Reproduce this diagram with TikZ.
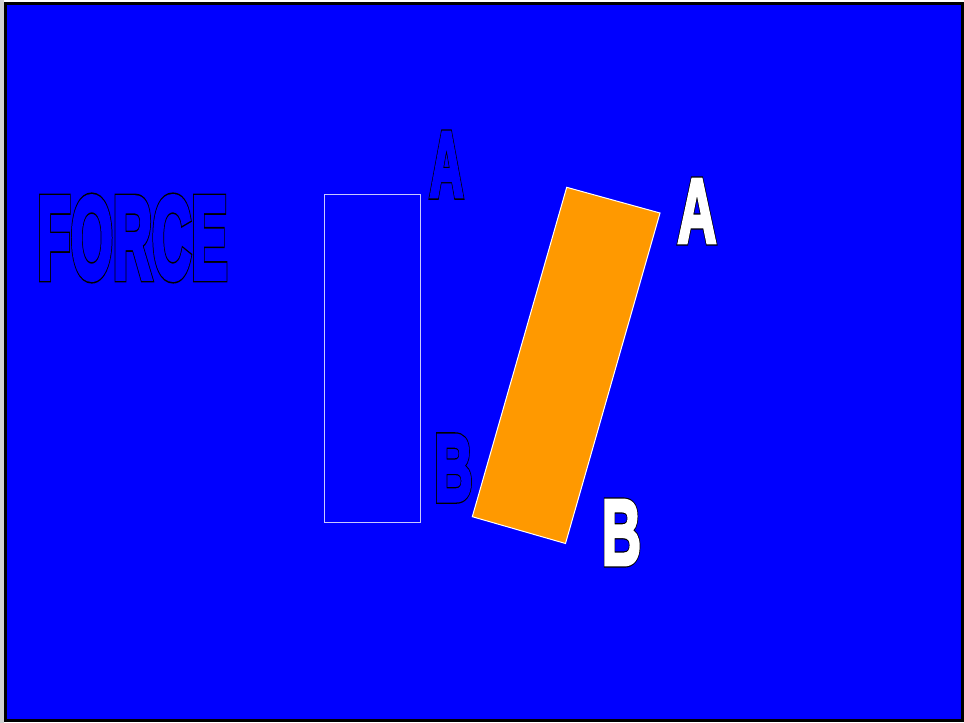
\documentclass[tikz,border=0pt]{standalone}
\usepackage{fontspec}
\usepackage{graphicx}
\setmainfont{Liberation Sans}
\definecolor{bgblue}{RGB}{0,0,255}
\definecolor{orng}{RGB}{255,153,0}
\definecolor{pale}{RGB}{200,200,255}
% heavy outlined letters: a thick black stroke underneath, a thinner fill-coloured stroke on top
\newcommand{\hollowtxt}[3]{\resizebox*{#1}{#2}{\fontsize{95}{95}\selectfont\bfseries
  \rlap{\special{pdf:literal direct 1 Tr 6.6 w 0 0 0 RG}#3}%
  \special{pdf:literal direct 2 Tr 4 w 0 0 1 RG 0 0 1 rg}#3\special{pdf:literal direct 0 Tr}}}
\newcommand{\whitetxt}[3]{\resizebox*{#1}{#2}{\fontsize{95}{95}\selectfont\bfseries
  \rlap{\special{pdf:literal direct 2 Tr 6.4 w 0 0 0 RG 0 0 0 rg}#3}%
  \special{pdf:literal direct 2 Tr 4 w 1 1 1 RG 1 1 1 rg}#3\special{pdf:literal direct 0 Tr}}}
\tikzset{
  lbl/.style={inner sep=0pt, outer sep=0pt, anchor=north west},
  frame/.style={draw=black, line width=3pt, fill=bgblue},
  plainrect/.style={draw=pale, line width=1.3pt},
  bar/.style={fill=orng, draw=white, line width=1pt},
}
\begin{document}
\begin{tikzpicture}[x=1pt,y=-1pt]
\useasboundingbox (0,0) rectangle (964,723);
\fill[white] (0,0) rectangle (964,723);
\fill[black!18] (0,0) rectangle (4,723);
\draw[frame] (5.5,3.5) rectangle (962,720.5);
% FORCE
\node[lbl] (force) at (37.5,196.5) {\hollowtxt{190pt}{83pt}{FORCE}};
% plain rectangle
\node[plainrect, minimum width=96pt, minimum height=328pt, inner sep=0pt, anchor=north west] (rect) at (324,194) {};
% outlined labels
\node[lbl] (a1) at (429.5,132.5) {\hollowtxt{34pt}{64pt}{A}};
\node[lbl] (b1) at (434.5,435.5) {\hollowtxt{38pt}{65pt}{B}};
% orange bar
\draw[bar] (566.7,187.3) coordinate (t) -- (660,213) coordinate (r) -- (565.5,543.5) coordinate (bt) -- (472.3,516.7) coordinate (l) -- cycle;
% white labels
\node[lbl] (a2) at (677.5,179.5) {\whitetxt{39pt}{63pt}{A}};
\node[lbl] (b2) at (602,500.5) {\whitetxt{39pt}{64pt}{B}};
\end{tikzpicture}
\end{document}
